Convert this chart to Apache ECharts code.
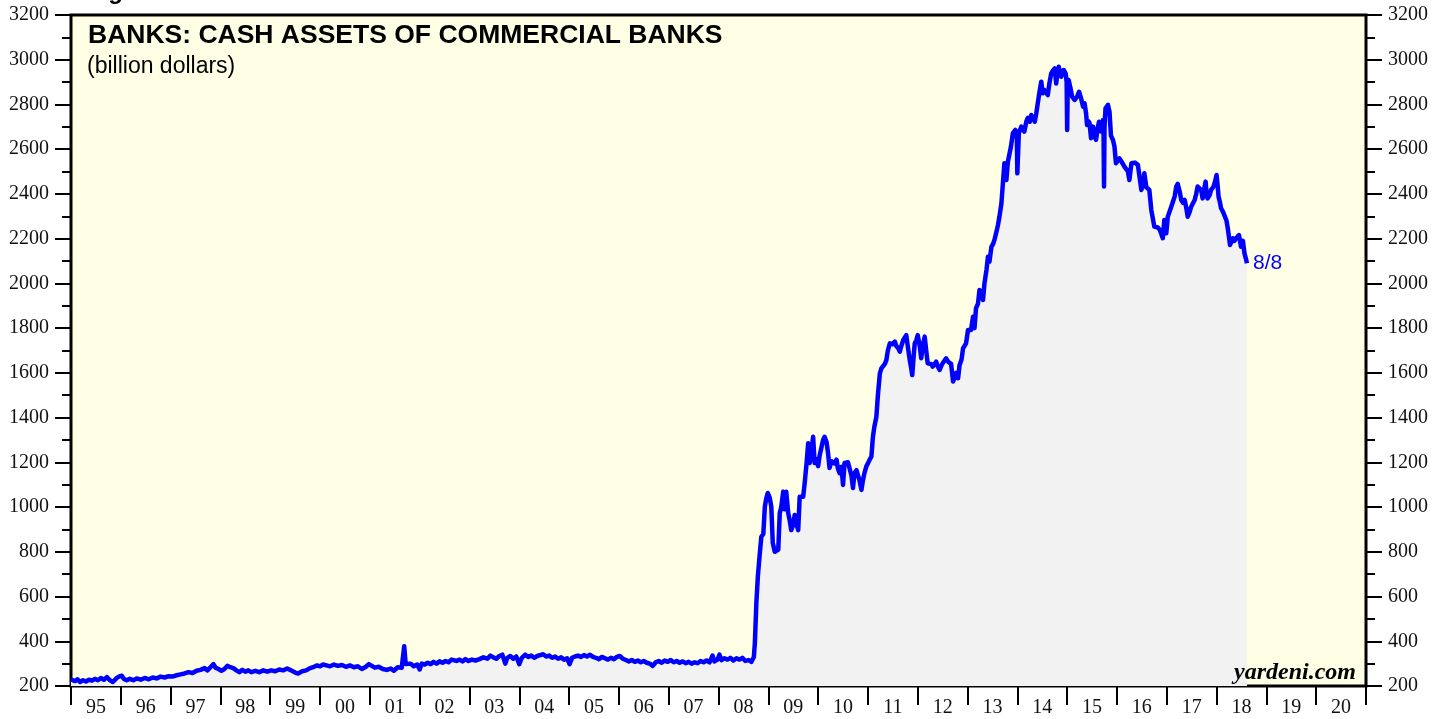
<!DOCTYPE html>
<html>
<head>
<meta charset="utf-8">
<title>Banks: Cash Assets of Commercial Banks</title>
<script src="https://cdn.jsdelivr.net/npm/echarts/dist/echarts.min.js"></script>
<style>
  html, body { margin: 0; padding: 0; background: #fff; }
  #chart { width: 1448px; height: 719px; }
</style>
</head>
<body>
<div id="chart"></div>
<script>
// year labels under the x axis (one per year band)
var yearLabels = ['95', '96', '97', '98', '99', '00', '01', '02', '03', '04', '05', '06', '07',
  '08', '09', '10', '11', '12', '13', '14', '15', '16', '17', '18', '19', '20']

// weekly-ish observation dates, as decimal years
var obsDates = [
  1995.00, 1995.04, 1995.08, 1995.13, 1995.18, 1995.24, 1995.30, 1995.36, 1995.42, 1995.48,
  1995.54, 1995.60, 1995.66, 1995.72, 1995.78, 1995.84, 1995.88, 1995.92, 1995.97, 1996.02,
  1996.06, 1996.12, 1996.18, 1996.25, 1996.32, 1996.40, 1996.48, 1996.56, 1996.64, 1996.72,
  1996.80, 1996.88, 1996.96, 1997.05, 1997.12, 1997.20, 1997.28, 1997.36, 1997.44, 1997.52,
  1997.60, 1997.68, 1997.74, 1997.80, 1997.86, 1997.90, 1997.96, 1998.02, 1998.08, 1998.14,
  1998.20, 1998.26, 1998.32, 1998.38, 1998.44, 1998.50, 1998.56, 1998.62, 1998.70, 1998.78,
  1998.86, 1998.94, 1999.02, 1999.10, 1999.18, 1999.26, 1999.34, 1999.42, 1999.50, 1999.56,
  1999.64, 1999.72, 1999.80, 1999.88, 1999.94, 2000.00, 2000.06, 2000.13, 2000.20, 2000.28,
  2000.36, 2000.44, 2000.52, 2000.60, 2000.68, 2000.76, 2000.84, 2000.92, 2000.98, 2001.04,
  2001.10, 2001.18, 2001.26, 2001.34, 2001.42, 2001.48, 2001.56, 2001.64, 2001.67, 2001.69,
  2001.72, 2001.76, 2001.82, 2001.88, 2001.95, 2002.00, 2002.04, 2002.10, 2002.16, 2002.22,
  2002.28, 2002.34, 2002.40, 2002.46, 2002.52, 2002.58, 2002.64, 2002.68, 2002.74, 2002.80,
  2002.86, 2002.92, 2002.98, 2003.05, 2003.12, 2003.20, 2003.28, 2003.36, 2003.42, 2003.48,
  2003.54, 2003.60, 2003.66, 2003.72, 2003.76, 2003.82, 2003.88, 2003.94, 2004.00, 2004.05,
  2004.12, 2004.18, 2004.24, 2004.30, 2004.36, 2004.42, 2004.48, 2004.54, 2004.60, 2004.66,
  2004.72, 2004.78, 2004.84, 2004.90, 2004.96, 2005.01, 2005.06, 2005.12, 2005.18, 2005.24,
  2005.30, 2005.36, 2005.42, 2005.48, 2005.54, 2005.60, 2005.66, 2005.72, 2005.78, 2005.84,
  2005.90, 2005.96, 2006.02, 2006.08, 2006.14, 2006.20, 2006.26, 2006.32, 2006.38, 2006.44,
  2006.50, 2006.56, 2006.62, 2006.68, 2006.74, 2006.80, 2006.86, 2006.92, 2006.98, 2007.04,
  2007.10, 2007.16, 2007.22, 2007.28, 2007.34, 2007.40, 2007.46, 2007.52, 2007.58, 2007.64,
  2007.70, 2007.76, 2007.82, 2007.88, 2007.92, 2007.98, 2008.02, 2008.06, 2008.12, 2008.18,
  2008.24, 2008.30, 2008.36, 2008.42, 2008.48, 2008.54, 2008.60, 2008.66, 2008.69,
  2008.71, 2008.73, 2008.76, 2008.79, 2008.83, 2008.86, 2008.90, 2008.93, 2008.96, 2008.99,
  2009.03, 2009.06, 2009.09, 2009.13, 2009.16, 2009.20, 2009.23, 2009.26, 2009.30, 2009.33,
  2009.36, 2009.40, 2009.43, 2009.46, 2009.50, 2009.53, 2009.56, 2009.60, 2009.63, 2009.67,
  2009.70, 2009.73, 2009.77, 2009.80, 2009.83, 2009.87, 2009.90, 2009.93, 2009.97, 2010.00,
  2010.03, 2010.07, 2010.10, 2010.13, 2010.17, 2010.20, 2010.23, 2010.27, 2010.30, 2010.33,
  2010.37, 2010.40, 2010.43, 2010.47, 2010.50, 2010.53, 2010.57, 2010.60, 2010.63, 2010.67,
  2010.70, 2010.73, 2010.77, 2010.80, 2010.83, 2010.87, 2010.90, 2010.93, 2010.97, 2011.00,
  2011.03, 2011.07, 2011.10, 2011.13, 2011.17, 2011.20, 2011.24, 2011.27, 2011.30, 2011.34,
  2011.37, 2011.40, 2011.44, 2011.47, 2011.50, 2011.54, 2011.57, 2011.61, 2011.64, 2011.67,
  2011.71, 2011.74, 2011.77, 2011.80, 2011.84, 2011.87, 2011.89, 2011.92, 2011.94, 2011.97,
  2012.00, 2012.04, 2012.07, 2012.10, 2012.14, 2012.17, 2012.20, 2012.24, 2012.27, 2012.30,
  2012.34, 2012.37, 2012.40, 2012.44, 2012.47, 2012.50, 2012.54, 2012.57, 2012.61, 2012.64,
  2012.67, 2012.71, 2012.74, 2012.77, 2012.81, 2012.84, 2012.88, 2012.91, 2012.94, 2012.97,
  2013.01, 2013.04, 2013.07, 2013.11, 2013.14, 2013.17, 2013.21, 2013.24, 2013.28, 2013.31,
  2013.34, 2013.38, 2013.41, 2013.44, 2013.48, 2013.51, 2013.54, 2013.58, 2013.61, 2013.64,
  2013.68, 2013.71, 2013.74, 2013.78, 2013.81, 2013.84, 2013.87, 2013.91, 2013.96, 2013.99,
  2014.00, 2014.03, 2014.06, 2014.08, 2014.11, 2014.14, 2014.18, 2014.21, 2014.25, 2014.28,
  2014.31, 2014.35, 2014.38, 2014.41, 2014.44, 2014.48, 2014.51, 2014.54, 2014.57, 2014.61,
  2014.64, 2014.68, 2014.71, 2014.75, 2014.78, 2014.81, 2014.83, 2014.86, 2014.88, 2014.91,
  2014.93, 2014.97, 2014.99, 2015.00, 2015.01, 2015.03, 2015.07, 2015.10, 2015.13, 2015.15,
  2015.20, 2015.24, 2015.28, 2015.32, 2015.35, 2015.38, 2015.40, 2015.43, 2015.45, 2015.48,
  2015.52, 2015.55, 2015.58, 2015.61, 2015.64, 2015.68, 2015.72, 2015.73, 2015.74, 2015.75,
  2015.77, 2015.80, 2015.82, 2015.85, 2015.88, 2015.92, 2015.95, 2015.98, 2016.02, 2016.05,
  2016.09, 2016.12, 2016.15, 2016.18, 2016.22, 2016.25, 2016.29, 2016.33, 2016.36, 2016.39,
  2016.42, 2016.45, 2016.49, 2016.52, 2016.55, 2016.59, 2016.62, 2016.65, 2016.69, 2016.72,
  2016.75, 2016.79, 2016.82, 2016.86, 2016.89, 2016.92, 2016.95, 2016.99, 2017.02, 2017.05,
  2017.09, 2017.12, 2017.16, 2017.19, 2017.22, 2017.24, 2017.26, 2017.29, 2017.33, 2017.36,
  2017.39, 2017.42, 2017.46, 2017.49, 2017.52, 2017.56, 2017.59, 2017.62, 2017.66, 2017.69,
  2017.72, 2017.75, 2017.78, 2017.80, 2017.82, 2017.86, 2017.89, 2017.93, 2017.96, 2018.00,
  2018.02, 2018.04, 2018.07, 2018.09, 2018.13, 2018.16, 2018.20, 2018.23, 2018.27, 2018.30,
  2018.33, 2018.36, 2018.39, 2018.42, 2018.45, 2018.49, 2018.53, 2018.56, 2018.59, 2018.61
]

// cash assets, billion dollars
var cashAssets = [
  229, 236, 222, 230, 218, 226, 220, 228, 224, 232,
  226, 236, 228, 240, 226, 218, 215, 236, 243, 246,
  232, 226, 232, 226, 234, 228, 236, 230, 238, 234,
  242, 238, 244, 243, 248, 252, 256, 262, 258, 268,
  272, 280, 270, 284, 298, 282, 276, 268, 276, 290,
  284, 280, 270, 262, 272, 264, 270, 262, 268, 262,
  270, 264, 270, 266, 274, 270, 278, 270, 260, 256,
  266, 270, 280, 286, 292, 288, 296, 292, 288, 296,
  290, 294, 286, 292, 284, 288, 276, 286, 298, 290,
  282, 286, 276, 272, 278, 268, 284, 282, 290, 378,
  298, 292, 300, 288, 296, 274, 300, 296, 304, 298,
  308, 300, 310, 304, 312, 306, 318, 326, 312, 318,
  310, 320, 312, 318, 314, 320, 328, 322, 336, 328,
  322, 334, 340, 300, 326, 334, 322, 332, 298, 326,
  340, 330, 336, 326, 334, 338, 342, 332, 336, 326,
  332, 322, 328, 318, 324, 298, 326, 332, 336, 330,
  338, 332, 340, 330, 326, 320, 330, 324, 318, 326,
  320, 330, 334, 322, 316, 310, 316, 308, 314, 306,
  312, 304, 300, 290, 306, 312, 304, 314, 308, 316,
  306, 312, 304, 310, 302, 308, 300, 306, 302, 312,
  306, 314, 306, 336, 310, 318, 340, 316, 324, 318,
  326, 314, 324, 318, 326, 312, 316, 308, 310,
  330, 392, 571, 690, 795, 867, 880, 1002, 1040, 1063,
  1040, 1002, 839, 800, 795, 810, 973, 1000, 1069, 990,
  1069, 973, 940, 897, 920, 965, 930, 897, 1046, 1040,
  1046, 1107, 1200, 1285, 1197, 1260, 1314, 1197, 1215, 1183,
  1230, 1270, 1300, 1314, 1290, 1241, 1175, 1205, 1212, 1195,
  1212, 1170, 1152, 1180, 1099, 1197, 1190, 1200, 1197, 1140,
  1085, 1152, 1165, 1160, 1120, 1077, 1120, 1152, 1183, 1195,
  1210, 1226, 1314, 1360, 1404, 1500, 1598, 1620, 1628, 1640,
  1657, 1700, 1732, 1740, 1728, 1740, 1720, 1710, 1695, 1720,
  1747, 1755, 1769, 1720, 1657, 1620, 1590, 1680, 1732, 1745,
  1769, 1720, 1665, 1720, 1762, 1700, 1643, 1650, 1640, 1628,
  1640, 1650, 1630, 1613, 1630, 1643, 1650, 1665, 1650, 1645,
  1640, 1561, 1580, 1600, 1576, 1635, 1660, 1710, 1720, 1732,
  1792, 1800, 1792, 1851, 1800, 1889, 1910, 1971, 1950, 1926,
  2000, 2060, 2119, 2097, 2164, 2175, 2194, 2231, 2260, 2298,
  2358, 2362, 2537, 2462, 2544, 2552, 2610, 2671, 2686, 2650,
  2492, 2671, 2690, 2701, 2690, 2679, 2723, 2740, 2723, 2753,
  2740, 2723, 2760, 2805, 2850, 2902, 2850, 2865, 2872, 2842,
  2890, 2939, 2950, 2961, 2894, 2950, 2969, 2940, 2924, 2945,
  2954, 2939, 2900, 2686, 2860, 2909, 2870, 2835, 2830, 2820,
  2835, 2857, 2827, 2790, 2805, 2760, 2708, 2725, 2716, 2649,
  2701, 2656, 2642, 2690, 2723, 2679, 2730, 2700, 2433, 2700,
  2783, 2790, 2798, 2768, 2660, 2641, 2612, 2537, 2529, 2559,
  2545, 2552, 2522, 2530, 2500, 2462, 2537, 2535, 2540, 2537,
  2530, 2530, 2418, 2440, 2492, 2430, 2425, 2418, 2328, 2320,
  2254, 2250, 2250, 2240, 2245, 2202, 2283, 2224, 2298, 2300,
  2343, 2340, 2390, 2433, 2445, 2440, 2410, 2373, 2360, 2373,
  2340, 2298, 2320, 2343, 2350, 2373, 2400, 2433, 2425, 2418,
  2380, 2420, 2455, 2400, 2380, 2395, 2418, 2430, 2447, 2485,
  2440, 2388, 2360, 2336, 2320, 2313, 2280, 2239, 2172, 2180,
  2202, 2190, 2202, 2205, 2216, 2164, 2190, 2134, 2110, 2090
]

var lastLabel = '8/8'

var seriesData = obsDates.map(function (d, i) { return [d, cashAssets[i]] })

var chart = echarts.init(document.getElementById('chart'))

var yAxisBase = {
  type: 'value',
  min: 200,
  max: 3200,
  interval: 200,
  axisLine: { show: false },
  axisTick: { show: true, length: 16, lineStyle: { color: '#000', width: 2 } },
  minorTick: { show: true, splitNumber: 2, length: 9, lineStyle: { color: '#000', width: 2 } },
  splitLine: { show: false },
  axisLabel: {
    margin: 22,
    color: '#111',
    fontFamily: 'Liberation Serif',
    fontSize: 20,
    formatter: function (v) { return String(v) }
  }
}

chart.setOption({
  animation: false,
  backgroundColor: '#fff',
  grid: {
    left: 71,
    right: 82,
    top: 15,
    bottom: 33,
    show: true,
    backgroundColor: '#ffffe5',
    borderColor: '#000',
    borderWidth: 3
  },
  xAxis: [{
    type: 'category',
    data: yearLabels,
    boundaryGap: true,
    position: 'bottom',
    axisLine: { show: false },
    axisTick: { show: true, alignWithLabel: false, interval: 0, length: 19, lineStyle: { color: '#000', width: 2 } },
    splitLine: { show: false },
    axisLabel: {
      interval: 0,
      margin: 12,
      color: '#111',
      fontFamily: 'Liberation Serif',
      fontSize: 20
    }
  }, {
    type: 'value',
    min: 1995,
    max: 2021,
    show: false
  }],
  yAxis: [
    Object.assign({}, yAxisBase, { position: 'left' }),
    Object.assign({}, yAxisBase, { position: 'right' })
  ],
  series: [{
    name: 'Cash assets',
    type: 'line',
    xAxisIndex: 1,
    yAxisIndex: 0,
    data: seriesData,
    symbol: 'none',
    lineStyle: { color: '#0000ff', width: 4.5, join: 'round' },
    areaStyle: { color: '#f2f2f2', opacity: 1, origin: 'start' },
    endLabel: {
      show: true,
      formatter: lastLabel,
      color: '#0000ff',
      fontFamily: 'Liberation Sans',
      fontSize: 21,
      distance: 6
    }
  }],
  graphic: [
    {
      type: 'text',
      x: 87,
      y: -8,
      z: 100,
      style: { text: 'Figure 1.', font: 'bold 24px "Liberation Sans"', fill: '#000', verticalAlign: 'middle' }
    },
    {
      type: 'text',
      x: 88,
      y: 36,
      z: 100,
      style: {
        text: 'BANKS: CASH ASSETS OF COMMERCIAL BANKS',
        font: 'bold 26.5px "Liberation Sans"',
        fill: '#000',
        verticalAlign: 'middle'
      }
    },
    {
      type: 'text',
      x: 87,
      y: 66.5,
      z: 100,
      style: {
        text: '(billion dollars)',
        font: '23px "Liberation Sans"',
        fill: '#000',
        verticalAlign: 'middle'
      }
    },
    {
      type: 'text',
      x: 1356,
      y: 673,
      z: 100,
      style: {
        text: 'yardeni.com',
        font: 'italic bold 24px "Liberation Serif"',
        fill: '#000',
        textAlign: 'right',
        verticalAlign: 'middle'
      }
    }
  ]
})
</script>
</body>
</html>
